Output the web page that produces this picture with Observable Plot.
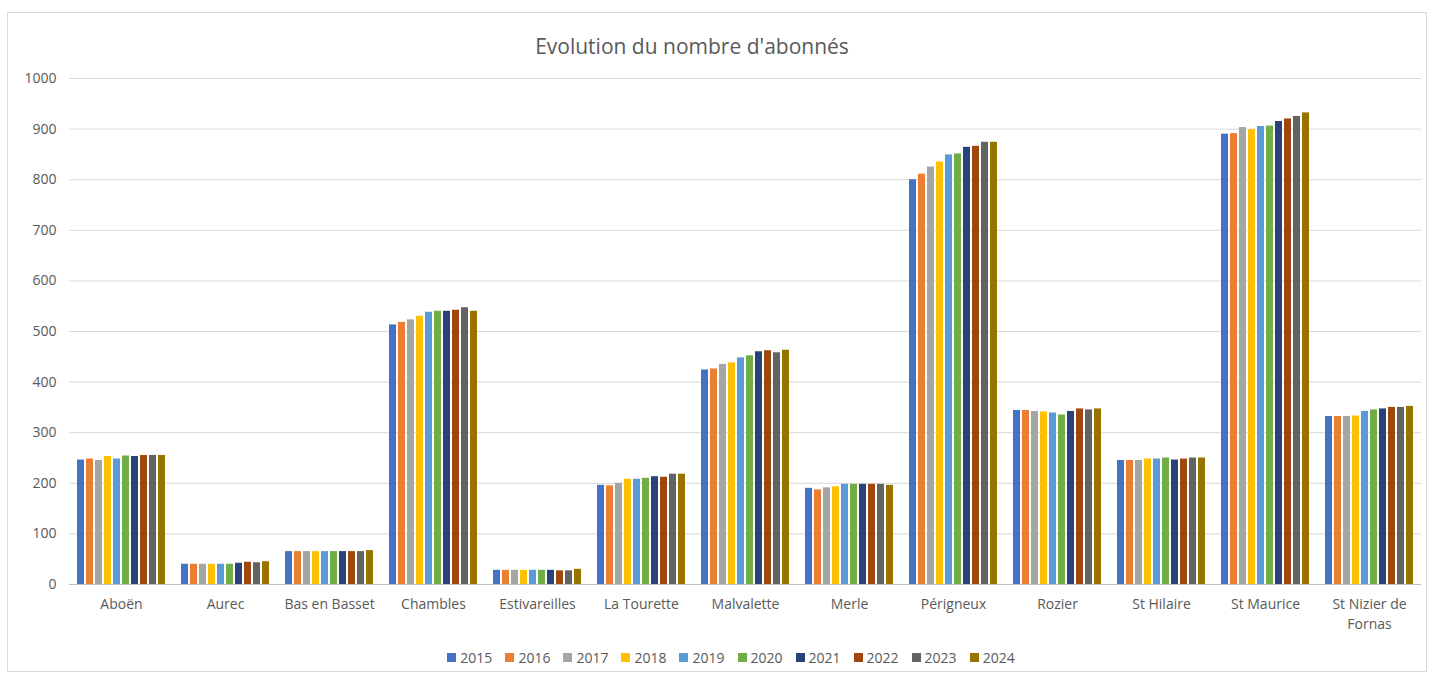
<!DOCTYPE html>
<html>
<head>
<meta charset="utf-8">
<script src="https://cdn.jsdelivr.net/npm/d3@7"></script>
<script src="https://cdn.jsdelivr.net/npm/@observablehq/plot@0.6"></script>
<style>
  html, body { margin: 0; padding: 0; background: #fff; }
  body { width: 1435px; height: 676px; position: relative; overflow: hidden; font-family: "Open Sans", sans-serif; }
  #frame { position: absolute; left: 7px; top: 12px; width: 1420px; height: 660px; border: 1px solid #d9d9d9; box-sizing: border-box; }
  #title { position: absolute; top: 32px; left: 0; width: 1384px; text-align: center; font-size: 21px; color: #595959; }
  #chart { position: absolute; left: 0; top: 65px; }
  #legend { position: absolute; top: 648px; left: 0; width: 1462px; display: flex; justify-content: center; gap: 13px; font-size: 14px; color: #595959; }
  .item { display: flex; align-items: center; gap: 4px; }
  .sw { width: 9px; height: 9px; display: inline-block; }
</style>
</head>
<body>
<div id="frame"></div>
<div id="title">Evolution du nombre d'abonnés</div>
<div id="chart"></div>
<div id="legend"></div>
<script>
const communes = ["Aboën","Aurec","Bas en Basset","Chambles","Estivareilles","La Tourette","Malvalette","Merle","Périgneux","Rozier","St Hilaire","St Maurice","St Nizier de Fornas"];
const years = ["2015","2016","2017","2018","2019","2020","2021","2022","2023","2024"];
const colors = ["#4472C4","#ED7D31","#A5A5A5","#FFC000","#5B9BD5","#70AD47","#264478","#9E480E","#636363","#997300"];
const yTicks = [0,100,200,300,400,500,600,700,800,900,1000];
// one row per commune, one value per year (2015..2024)
const values = [
  [246,248,245,253,248,254,253,255,255,255],
  [40,40,40,40,40,40,42,44,43,45],
  [65,65,65,65,65,65,65,65,65,67],
  [513,518,523,530,538,540,540,542,547,540],
  [28,28,28,28,28,28,28,27,27,30],
  [196,195,200,208,208,210,213,212,218,218],
  [424,426,435,438,448,452,460,462,458,463],
  [190,187,191,193,198,198,198,198,198,196],
  [800,811,825,835,849,851,864,866,874,874],
  [344,344,342,341,339,335,342,347,345,347],
  [245,245,245,248,248,250,246,248,250,250],
  [890,891,903,899,905,906,915,920,925,932],
  [332,332,332,333,342,345,347,350,350,352]
];

const data = [];
communes.forEach((c, i) => years.forEach((y, j) => data.push({commune: c, year: y, value: values[i][j]})));

const fxFormat = d => d === "St Nizier de Fornas" ? "St Nizier de\nFornas" : d;

const chart = Plot.plot({
  width: 1435,
  height: 574,
  marginTop: 13,
  marginBottom: 55,
  marginLeft: 68,
  marginRight: 13,
  style: {fontFamily: "Open Sans, sans-serif", fontSize: "14px", color: "#595959", background: "transparent"},
  fx: {domain: communes, padding: 0, label: null},
  x: {domain: years, axis: null, paddingInner: 0.2, paddingOuter: 0.4},
  y: {domain: [0, 1000], label: null},
  color: {domain: years, range: colors},
  marks: [
    Plot.ruleY(yTicks, {stroke: "#d9d9d9", strokeWidth: 1}),
    Plot.barY(data, {fx: "commune", x: "year", y: "value", fill: "year"}),
    Plot.ruleY([0], {stroke: "#bfbfbf", strokeWidth: 1}),
    Plot.axisY(yTicks, {tickSize: 0, tickPadding: 13, tickFormat: d => String(d), fontSize: 14, label: null}),
    Plot.axisFx({anchor: "bottom", tickSize: 0, tickPadding: 10, tickFormat: fxFormat, lineHeight: 1.45, fontSize: 14, label: null})
  ]
});
document.getElementById("chart").appendChild(chart);

const legend = document.getElementById("legend");
years.forEach((y, i) => {
  const it = document.createElement("div");
  it.className = "item";
  it.innerHTML = `<span class="sw" style="background:${colors[i]}"></span><span>${y}</span>`;
  legend.appendChild(it);
});
</script>
</body>
</html>
